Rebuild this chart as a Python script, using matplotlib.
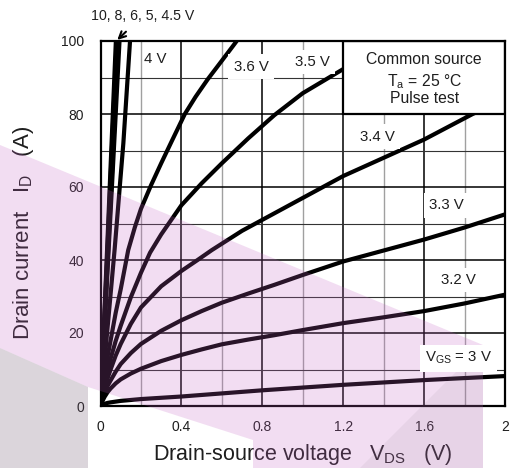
import matplotlib
matplotlib.use("Agg")
import matplotlib.pyplot as plt
from matplotlib.patches import Polygon, Rectangle
import numpy as np

plt.rcParams['font.family'] = ['Liberation Sans', 'DejaVu Sans']
plt.rcParams['mathtext.fontset'] = 'custom'
plt.rcParams['mathtext.rm'] = 'Liberation Sans'

TXT = '#1e1e1e'

# drain current (A) vs drain-source voltage (V)
v_30 = [0, 0.01, 0.02, 0.035, 0.05, 0.075, 0.1, 0.15, 0.2, 0.3, 0.4, 0.6,
        0.8, 1.0, 1.2, 1.4, 1.6, 1.8, 2.0]
i_30 = [0, 0.35, 0.6, 0.85, 1.0, 1.2, 1.4, 1.65, 1.9, 2.25, 2.6, 3.45,
        4.3, 5.05, 5.8, 6.45, 7.1, 7.65, 8.2]

v_32 = [0, 0.01, 0.02, 0.035, 0.05, 0.075, 0.1, 0.15, 0.2, 0.3, 0.4, 0.5,
        0.6, 0.73, 0.86, 1.0, 1.2, 1.4, 1.6, 1.8, 2.0]
i_32 = [0, 1.4, 2.5, 3.8, 4.8, 6.2, 7.3, 8.9, 10.2, 12.3, 14.0, 15.5,
        16.9, 18.2, 19.4, 20.8, 22.7, 24.3, 26.0, 28.1, 30.5]

v_33 = [0, 0.01, 0.02, 0.035, 0.05, 0.075, 0.1, 0.15, 0.2, 0.3, 0.4, 0.5,
        0.6, 0.73, 0.86, 1.0, 1.2, 1.4, 1.6, 1.8, 2.0]
i_33 = [0, 1.9, 3.5, 5.5, 7.0, 9.4, 11.5, 14.5, 17.0, 20.6, 23.5, 26.0,
        28.3, 30.8, 33.2, 35.9, 39.6, 42.6, 45.6, 48.9, 52.5]

v_34 = [0, 0.01, 0.02, 0.035, 0.05, 0.075, 0.1, 0.15, 0.2, 0.3, 0.4, 0.48,
        0.55, 0.7, 0.86, 1.0, 1.2, 1.4, 1.6, 1.84, 2.0]
i_34 = [0, 2.4, 4.5, 7.6, 10.0, 13.8, 17.0, 22.5, 27.0, 32.8, 37.0, 40.0,
        42.7, 48.0, 52.8, 57.0, 63.0, 68.0, 73.0, 80.0, 84.0]

v_35 = [0, 0.01, 0.02, 0.035, 0.05, 0.075, 0.1, 0.15, 0.2, 0.245, 0.3, 0.4,
        0.5, 0.6, 0.73, 0.86, 1.0, 1.2, 1.4]
i_35 = [0, 3.2, 6.0, 9.8, 13.0, 17.8, 22.0, 29.8, 36.5, 42.0, 47.0, 55.0,
        61.0, 66.5, 73.3, 79.7, 85.7, 92.3, 98.5]

v_36 = [0, 0.01, 0.02, 0.035, 0.05, 0.075, 0.1, 0.137, 0.17, 0.2, 0.25, 0.3,
        0.35, 0.417, 0.47, 0.53, 0.6, 0.66, 0.7]
i_36 = [0, 4.2, 8.0, 13.5, 18.0, 25.5, 32.0, 42.7, 49.0, 54.0, 60.5, 66.5,
        72.3, 80.0, 84.7, 89.5, 94.6, 99.0, 102.0]

v_40 = [0, 0.07, 0.113, 0.146, 0.16]
i_40 = [0, 43.0, 72.0, 100.0, 112.0]

# 4.5, 5, 6, 8, 10 V lines: V where each one reaches 100 A
v_bundle_100 = [0.094, 0.089, 0.084, 0.080, 0.076]

curves = [(v_30, i_30), (v_32, i_32), (v_33, i_33), (v_34, i_34),
          (v_35, i_35), (v_36, i_36), (v_40, i_40)]
for vt in v_bundle_100:
    curves.append(([0, vt], [0, 100]))

# curve labels: text, V, I
label_text = ['4 V', '3.6 V', '3.5 V', '3.4 V', '3.3 V', '3.2 V',
              r'$\mathregular{V_{GS}}$ = 3 V']
label_v = [0.27, 0.745, 1.047, 1.37, 1.71, 1.77, 1.77]
label_i = [95.0, 93.0, 94.3, 73.8, 55.0, 34.5, 13.1]

fig = plt.figure(figsize=(5.12, 4.68), dpi=100)
W, H = 512, 468
ax = fig.add_axes([100.5 / W, 1 - 406 / H, 404.5 / W, 365 / H])

ax.set_xlim(0, 2)
ax.set_ylim(0, 100)
ax.set_xticks(np.arange(0, 2.01, 0.4))
ax.set_xticklabels(['0', '0.4', '0.8', '1.2', '1.6', '2'])
ax.set_yticks(np.arange(0, 101, 20))
ax.set_xticks(np.arange(0, 2.01, 0.2), minor=True)
ax.set_yticks(np.arange(0, 101, 10), minor=True)
ax.tick_params(which='both', length=0, labelsize=10, labelcolor=TXT)
ax.tick_params(axis='x', pad=10)
ax.tick_params(axis='y', pad=12)

ax.grid(which='major', color='black', lw=1.1, zorder=1)
ax.xaxis.grid(which='minor', color='#a0a0a0', lw=1.0)
ax.yaxis.grid(which='minor', color='#333333', lw=0.8)
ax.set_axisbelow(True)
for s in ax.spines.values():
    s.set_linewidth(1.6)
    s.set_color('black')
    s.set_zorder(6)

for v, i in curves:
    ax.plot(v, i, color='black', lw=3.0, solid_capstyle='butt',
            solid_joinstyle='round', zorder=3)

# condition box
ax.add_patch(Rectangle((1.2, 80), 0.8, 20, facecolor='white',
                       edgecolor='black', lw=1.6, zorder=5))
ax.text(1.6, 94.8, 'Common source', ha='center', va='center',
        fontsize=11.3, color=TXT, zorder=6)
ax.text(1.6, 89.0, r'T$_\mathregular{a}$ = 25 °C', ha='center', va='center',
        fontsize=11.3, color=TXT, zorder=6)
ax.text(1.6, 84.3, 'Pulse test', ha='center', va='center',
        fontsize=11.3, color=TXT, zorder=6)

ax.annotate('10, 8, 6, 5, 4.5 V', xy=(0.083, 100.3), xytext=(0.207, 106.8),
            ha='center', va='center', fontsize=10.2, color=TXT,
            annotation_clip=False,
            arrowprops=dict(arrowstyle='->', color='black', lw=1.5,
                            shrinkA=6, shrinkB=0, mutation_scale=12))

ax.set_xlabel(r'Drain-source voltage   V$_\mathregular{DS}$   (V)',
              fontsize=15.5, color=TXT, va='center')
ax.xaxis.set_label_coords(0.5, -0.134)
ax.set_ylabel(r'Drain current   I$_\mathregular{D}$   (A)',
              fontsize=16, color=TXT, va='center')
ax.yaxis.set_label_coords(-0.19, 0.474)

# watermark shapes drawn over the plot (figure pixel coords, y down)
def px(pts):
    return [(x / W, 1 - y / H) for x, y in pts]

fig.add_artist(Polygon(px([(0, 145), (483, 345), (483, 468), (253, 468),
                           (253, 440), (88, 387), (0, 348)]),
                       closed=True, transform=fig.transFigure,
                       facecolor=(0.76, 0.38, 0.76), alpha=0.21,
                       edgecolor='none', zorder=1))
fig.add_artist(Polygon(px([(0, 348), (88, 387), (88, 468), (0, 468)]),
                       closed=True, transform=fig.transFigure,
                       facecolor=(0.45, 0.35, 0.45), alpha=0.25,
                       edgecolor='none', zorder=1))
fig.add_artist(Polygon(px([(360, 468), (483, 345), (483, 468)]),
                       closed=True, transform=fig.transFigure,
                       facecolor=(0.4, 0.4, 0.4), alpha=0.08,
                       edgecolor='none', zorder=1))

# curve labels sit on top of everything
for k, (t, v, i) in enumerate(zip(label_text, label_v, label_i)):
    bb = None if k == 0 else dict(boxstyle='square,pad=0.35',
                                  facecolor='white', edgecolor='none')
    fig.text(v, i, t, transform=ax.transData, ha='center', va='center',
             fontsize=10.8, color=TXT, bbox=bb, zorder=3)

fig.savefig('out.png', dpi=100)
